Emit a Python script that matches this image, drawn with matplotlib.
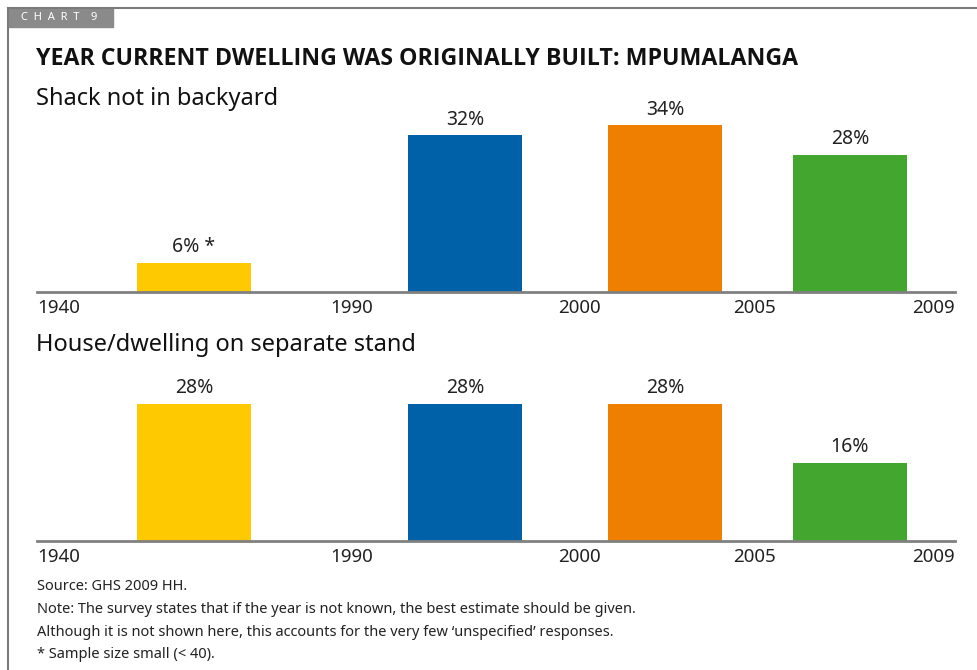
import matplotlib
matplotlib.use("Agg")
import matplotlib.pyplot as plt
from matplotlib.patches import Rectangle

plt.rcParams["font.family"] = ["Noto Sans", "DejaVu Sans"]

# share of households by year the dwelling was built
year_ticks = ["1940", "1990", "2000", "2005", "2009"]
shack_pct = [6, 32, 34, 28]
house_pct = [28, 28, 28, 16]
shack_small_sample = [True, False, False, False]
house_small_sample = [False, False, False, False]
bar_colours = ["#FFC900", "#0061A9", "#EE7F00", "#43A62F"]

title = "YEAR CURRENT DWELLING WAS ORIGINALLY BUILT: MPUMALANGA"
panel_titles = ["Shack not in backyard", "House/dwelling on separate stand"]
notes = [
    "Source: GHS 2009 HH.",
    "Note: The survey states that if the year is not known, the best estimate should be given.",
    "Although it is not shown here, this accounts for the very few \u2018unspecified\u2019 responses.",
    "* Sample size small (< 40).",
]

W, H = 978, 670
# horizontal layout in pixel units along the axis
AX_LEFT, AX_RIGHT = 37, 955
bar_centres = [157, 428, 628, 813]
bar_width = 114
tick_pos = [0, 315, 542, 717, 918]
PX_PER_PCT = 4.9
AX_H = 190


def fx(px):
    return px / W


def fy(py):
    return 1 - py / H


def panel(fig, baseline, values, small, heading, heading_y):
    ax = fig.add_axes([fx(AX_LEFT), fy(baseline), fx(AX_RIGHT - AX_LEFT), AX_H / H])
    ax.set_xlim(0, AX_RIGHT - AX_LEFT)
    ax.set_ylim(0, AX_H / PX_PER_PCT)
    ax.bar(bar_centres, values, width=bar_width, color=bar_colours, zorder=2)
    for x, v, s in zip(bar_centres, values, small):
        lab = f"{v}%" + (" *" if s else "")
        ax.annotate(lab, (x, v), xytext=(0, 4), textcoords="offset points",
                    ha="center", va="bottom", fontsize=14, color="#222222")
    for side in ["top", "left", "right"]:
        ax.spines[side].set_visible(False)
    ax.spines["bottom"].set_color("#808080")
    ax.spines["bottom"].set_linewidth(2)
    ax.spines["bottom"].set_zorder(3)
    ax.set_yticks([])
    ax.set_xticks(tick_pos)
    ax.set_xticklabels(year_ticks, fontsize=13.5, color="#222222")
    ax.tick_params(axis="x", length=0, pad=5)
    labels = ax.get_xticklabels()
    labels[0].set_ha("left")
    labels[-1].set_ha("right")
    fig.text(fx(36), fy(heading_y), heading, fontsize=17, va="center",
             ha="left", color="#111111")
    return ax


fig = plt.figure(figsize=(W / 100, H / 100), dpi=100)

# frame and chart tab
fig.add_artist(plt.Line2D([fx(8), fx(8)], [fy(8), 0], color="#7a7a7a", lw=1.5))
fig.add_artist(plt.Line2D([fx(8), 1], [fy(8), fy(8)], color="#7a7a7a", lw=1.5))
fig.add_artist(Rectangle((fx(8), fy(27)), fx(105), 19 / H, color="#8a8a8a",
                         transform=fig.transFigure))
fig.text(fx(21), fy(18), "C  H  A  R  T    9", fontsize=8, color="white",
         va="center", ha="left")

fig.text(fx(36), fy(59), title, fontsize=16.7, fontweight="bold", va="center",
         ha="left", color="#111111", family=["Open Sans", "DejaVu Sans"])

panel(fig, 292, shack_pct, shack_small_sample, panel_titles[0], 99)
panel(fig, 541, house_pct, house_small_sample, panel_titles[1], 345)

for i, line in enumerate(notes):
    fig.text(fx(37), fy(587 + i * 22.5), line, fontsize=10.5, va="center",
             ha="left", color="#222222")

fig.savefig("out.png", dpi=100)
